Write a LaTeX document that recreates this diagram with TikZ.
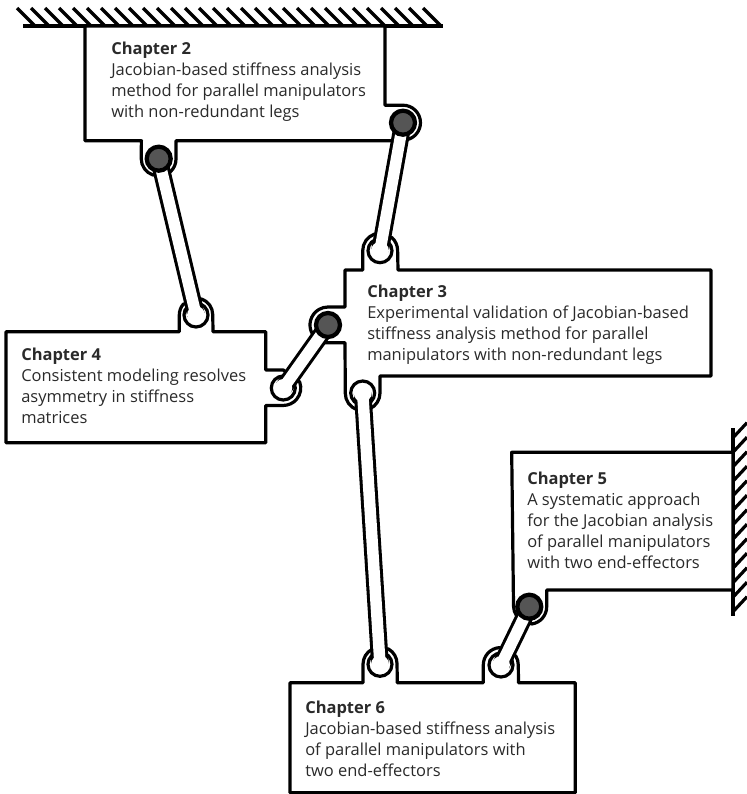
\documentclass[tikz,border=0pt]{standalone}
\usepackage{fontspec}
\setmainfont{Open Sans}
\usepackage{tikz}
\usetikzlibrary{backgrounds}
\definecolor{pingray}{HTML}{555555}
\definecolor{inkgray}{HTML}{2A2A2A}
\tikzstyle{body} = [draw=black, fill=white, line width=2.4pt, line join=round]
\tikzstyle{link} = [draw=black, line width=2.3pt, double=white, double distance=8.6pt]
\tikzstyle{pinopen} = [circle, draw=black, fill=white, line width=2.4pt, minimum size=18pt, inner sep=0pt]
\tikzstyle{pinhole} = [circle, fill=white, minimum size=13.4pt, inner sep=0pt]
\tikzstyle{pindark} = [circle, draw=black, fill=pingray, line width=3.2pt, minimum size=18pt, inner sep=0pt]
\tikzstyle{chaptext} = [anchor=north west, inner sep=0pt, align=left, text=inkgray, font=\fontsize{12.35}{15.75}\selectfont]
\tikzstyle{ground} = [line width=2.4pt, draw=black]

\begin{document}
\begin{tikzpicture}[x=0.75pt, y=-0.75pt]
\useasboundingbox (0,0) rectangle (747,794);

\node (pin2a) [pindark] at (158.7,158.7) {};
\node (pin2b) [pindark] at (403,122.7) {};
\node (pin3b) [pindark] at (328,325) {};
\node (pin5) [pindark] at (529.3,606.7) {};

\node (chap2) [chaptext] at (111,41.5) {\textbf{Chapter 2}\\Jacobian-based stiffness analysis\\method for parallel manipulators\\with non-redundant legs};
\node (chap3) [chaptext] at (367,284.5) {\textbf{Chapter 3}\\Experimental validation of Jacobian-based\\stiffness analysis method for parallel\\manipulators with non-redundant legs};
\node (chap4) [chaptext] at (21,347.5) {\textbf{Chapter 4}\\Consistent modeling resolves\\asymmetry in stiffness\\matrices};
\node (chap5) [chaptext] at (527,471.5) {\textbf{Chapter 5}\\A systematic approach\\for the Jacobian analysis\\of parallel manipulators\\with two end-effectors};
\node (chap6) [chaptext] at (305,700.5) {\textbf{Chapter 6}\\Jacobian-based stiffness analysis\\of parallel manipulators with\\two end-effectors};

\begin{pgfonlayer}{background}
\draw [ground] (23,26) -- (442.7,26);
\foreach \i in {0,...,29}
  \draw [ground] (17+14*\i,8) -- (35+14*\i,26);
\draw [ground] (733,428) -- (733,616);
\foreach \i in {0,...,12}
  \draw [ground] (733,611.7-14.5*\i) -- (747,596.7-14.5*\i);

\draw [body] (85,26) -- (385,26) -- (385,105.2) -- (403,105.2) arc[start angle=90, end angle=-75, radius=13.1pt] -- (390,140.7) -- (176,140.7) -- (176,159) arc[start angle=0, end angle=-46, radius=13pt] -- (152.9,175) arc[start angle=-109, end angle=-180, radius=13pt] -- (141.4,140.7) -- (85,140.7) -- cycle;
\draw [body] (345,270) -- (362.7,270) -- (362.7,250.7) arc[start angle=180, end angle=110, radius=13.2pt] -- (391.8,237.5) arc[start angle=48, end angle=0, radius=13.2pt] -- (398,270) -- (711,270) -- (711,376) -- (380,376) -- (380,393) arc[start angle=0, end angle=-65, radius=13pt] -- (356.7,409.6) arc[start angle=-110, end angle=-180, radius=13pt] -- (345,342.7) -- (322,342.7) -- (312.4,334) arc[start angle=210, end angle=90, radius=13.5pt] -- (345,307) -- cycle;
\draw [body] (6,331.7) -- (179.3,331.7) -- (179.3,315) arc[start angle=180, end angle=140, radius=12.6pt] -- (201.7,299) arc[start angle=70, end angle=0, radius=12.6pt] -- (213,331.7) -- (265.7,331.7) -- (265.7,370) -- (283.3,370) -- (299.7,382) arc[start angle=20, end angle=-90, radius=13.1pt] -- (265.7,405.5) -- (265.7,442.7) -- (6,442.7) -- cycle;
\draw [body] (511.7,452.3) -- (733,452.3) -- (733,590) -- (546.7,590) -- (546.7,606.7) arc[start angle=0, end angle=-82, radius=13.1pt] -- (516.5,615.7) arc[start angle=-146, end angle=-180, radius=13.1pt] -- cycle;
\draw [body] (290,682.7) -- (363,682.7) -- (363,664.3) arc[start angle=180, end angle=118, radius=12.8pt] -- (388.5,649) arc[start angle=60, end angle=0, radius=12.8pt] -- (397.3,682.7) -- (483.3,682.7) -- (483.3,665) arc[start angle=180, end angle=95, radius=13.1pt] -- (515.8,656) arc[start angle=31, end angle=0, radius=13.1pt] -- (518.5,682.7) -- (575.3,682.7) -- (575.3,792.7) -- (290,792.7) -- cycle;

\node (pin3a) [pinopen] at (380,250.7) {};
\node (pin3c) [pinopen] at (362.7,393) {};
\node (pin4a) [pinopen] at (196,315) {};
\node (pin4b) [pinopen] at (283.3,388) {};
\node (pin6a) [pinopen] at (380,664.3) {};
\node (pin6b) [pinopen] at (501,665) {};

\draw [link] (pin2a.center) -- (pin4a.center);
\draw [link] (pin2b.center) -- (pin3a.center);
\draw [link] (pin3b.center) -- (pin4b.center);
\draw [link] (pin3c.center) -- (pin6a.center);
\draw [link] (pin5.center) -- (pin6b.center);
\end{pgfonlayer}

\node (hole3a) [pinhole] at (pin3a) {};
\node (hole3c) [pinhole] at (pin3c) {};
\node (hole4a) [pinhole] at (pin4a) {};
\node (hole4b) [pinhole] at (pin4b) {};
\node (hole6a) [pinhole] at (pin6a) {};
\node (hole6b) [pinhole] at (pin6b) {};

\end{tikzpicture}
\end{document}
